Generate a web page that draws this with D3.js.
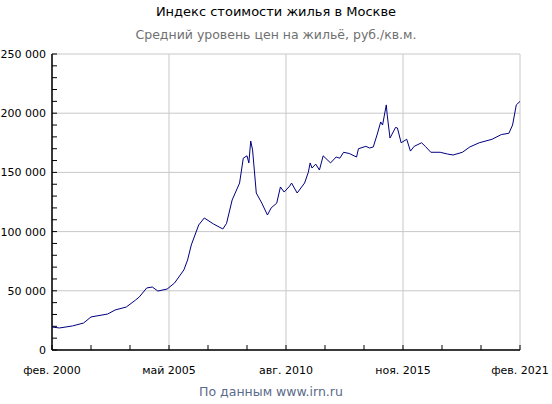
<!DOCTYPE html>
<html><head><meta charset="utf-8">
<script src="https://cdn.jsdelivr.net/npm/d3@7"></script>
<style>
body{margin:0;background:#fff;font-family:"DejaVu Sans",Verdana,sans-serif;}
text{font-family:"DejaVu Sans",Verdana,sans-serif;}
</style></head><body><div id="chart"></div>
<script>
// months since feb 2000
const months = [0,4,11,17,21,30,34,40,45,47,51,54,57,62,66,71,73,75,79,82,87,92,94,97,101,103,105,106,107,108,110,113,116,118,121,123,125,128,129,132,136,138,139,140,142,144,146,150,153,155,157,160,164,165,169,171,173,175,177,178,180,180.5,182,185,186,188,191,193,195,199,201,204,209,213,216,221,225,230,237,242,246,248,250,252];
const prices = [19400,18600,20300,22800,27900,30400,33800,36300,42200,44800,52400,53200,49800,51500,56600,67600,76000,88700,105600,111500,106400,102200,107000,126700,141000,162000,164000,158000,176500,169000,132600,124000,114000,120000,124000,137700,133400,138500,141000,132600,141000,150000,158000,153700,157000,152000,164000,158000,163000,162000,167000,166000,163000,170000,172000,170600,171500,181600,192600,190000,207000,198500,179000,188000,187500,175000,178000,168000,172000,175000,172000,167000,167000,165500,164700,167000,171500,175000,178000,182000,183000,190000,207000,210000];
const yTicks = [0,50000,100000,150000,200000,250000];
const xTicks = [0,63,126,189,252];
const xTickLabels = ['фев. 2000','май 2005','авг. 2010','ноя. 2015','фев. 2021'];

const width = 552, height = 404;
const margin = {top:54, right:32, bottom:54, left:52};
const svg = d3.select('#chart').append('svg').attr('width', width).attr('height', height);

const x = d3.scaleLinear().domain([0,252]).range([margin.left, width-margin.right]);
const y = d3.scaleLinear().domain([0,250000]).range([height-margin.bottom, margin.top]);

// grid
svg.append('g').selectAll('line').data(yTicks).enter().append('line')
  .attr('x1', x(0)).attr('x2', x(252)).attr('y1', d => y(d)).attr('y2', d => y(d))
  .attr('stroke', '#c8c8c8');
svg.append('g').selectAll('line').data(xTicks).enter().append('line')
  .attr('x1', d => x(d)).attr('x2', d => x(d)).attr('y1', y(0)).attr('y2', y(250000))
  .attr('stroke', '#c8c8c8');

// minor ticks
svg.append('g').selectAll('line').data(d3.range(0,250001,10000)).enter().append('line')
  .attr('x1', x(0)).attr('x2', x(0)+5).attr('y1', d => y(d)).attr('y2', d => y(d)).attr('stroke', '#000');
svg.append('g').selectAll('line').data(d3.range(0,253,21)).enter().append('line')
  .attr('x1', d => x(d)).attr('x2', d => x(d)).attr('y1', y(0)).attr('y2', y(0)-5).attr('stroke', '#000');

// axes lines
svg.append('line').attr('x1', x(0)).attr('x2', x(252)).attr('y1', y(0)).attr('y2', y(0)).attr('stroke', '#000').attr('stroke-width', 1.5);
svg.append('line').attr('x1', x(0)).attr('x2', x(0)).attr('y1', y(0)).attr('y2', y(250000)).attr('stroke', '#000').attr('stroke-width', 1.5);

// labels
svg.append('g').selectAll('text').data(yTicks).enter().append('text')
  .attr('x', x(0)-6).attr('y', d => y(d)+4).attr('text-anchor', 'end')
  .attr('font-size', 11).text(d => d3.format(',')(d).replace(/,/g, ' '));
svg.append('g').selectAll('text').data(xTicks).enter().append('text')
  .attr('x', d => x(d)).attr('y', y(0)+24).attr('text-anchor', 'middle')
  .attr('font-size', 11).text((d,i) => xTickLabels[i]);

// line
const line = d3.line().x((d,i) => x(months[i])).y(d => y(d));
svg.append('path').datum(prices).attr('d', line)
  .attr('fill', 'none').attr('stroke', '#000080').attr('stroke-width', 1);

// titles
svg.append('text').attr('x', 276).attr('y', 16).attr('text-anchor', 'middle')
  .attr('font-size', 13).text('Индекс стоимости жилья в Москве');
svg.append('text').attr('x', 276).attr('y', 39).attr('text-anchor', 'middle')
  .attr('font-size', 12.5).attr('fill', '#707070').text('Средний уровень цен на жильё, руб./кв.м.');
svg.append('text').attr('x', 271).attr('y', 396).attr('text-anchor', 'middle')
  .attr('font-size', 12.5).attr('fill', '#5a6a8a').text('По данным www.irn.ru');
</script></body></html>
